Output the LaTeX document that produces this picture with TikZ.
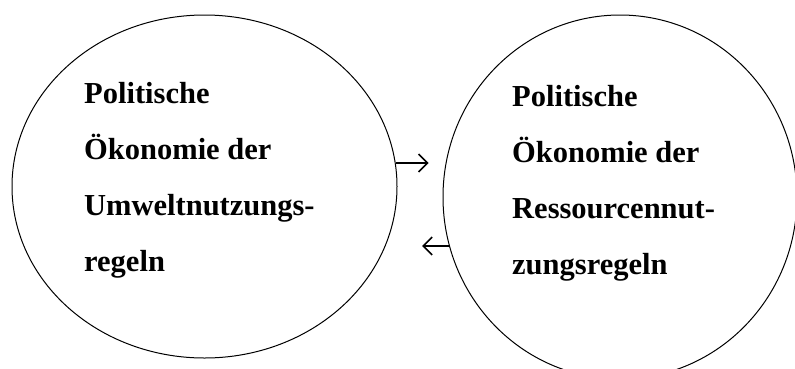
\documentclass[tikz,border=0pt]{standalone}
\usepackage{fontspec}
\setmainfont{Liberation Serif}
\usetikzlibrary{shapes.geometric,arrows.meta}

\begin{document}
\begin{tikzpicture}[x=1pt, y=1pt, >={Straight Barb[length=9pt,width=18pt,line width=1.6pt]}]

% field style
\tikzstyle{field} = [
    draw,
    ellipse,
    line width=1pt,
    inner sep=0pt
]

% text style
\tikzstyle{txt} = [
    anchor=north west,
    align=left,
    inner sep=0pt,
    font=\fontsize{30.5}{56}\selectfont\bfseries
]

\useasboundingbox (0,0) rectangle (795,-368);
\clip (0,0) rectangle (795,-368);

% Place the nodes.
\node [field, minimum width=385pt, minimum height=343pt] (umwelt) at (204.5,-186.5) {};
\node [field, minimum width=354pt, minimum height=364pt] (ressourcen) at (620,-197) {};

\node [txt] (umwelt-text) at (84,-82) {Politische\\Ökonomie der\\Umweltnutzungs-\\regeln};
\node [txt] (ressourcen-text) at (512,-85) {Politische\\Ökonomie der\\Ressourcennut-\\zungsregeln};

% Connect the nodes.
\draw [->, line width=1.6pt] (umwelt.7) -- ++(33,0);
\draw [->, line width=1.6pt] (ressourcen.196) -- ++(-27,0);

\end{tikzpicture}
\end{document}
